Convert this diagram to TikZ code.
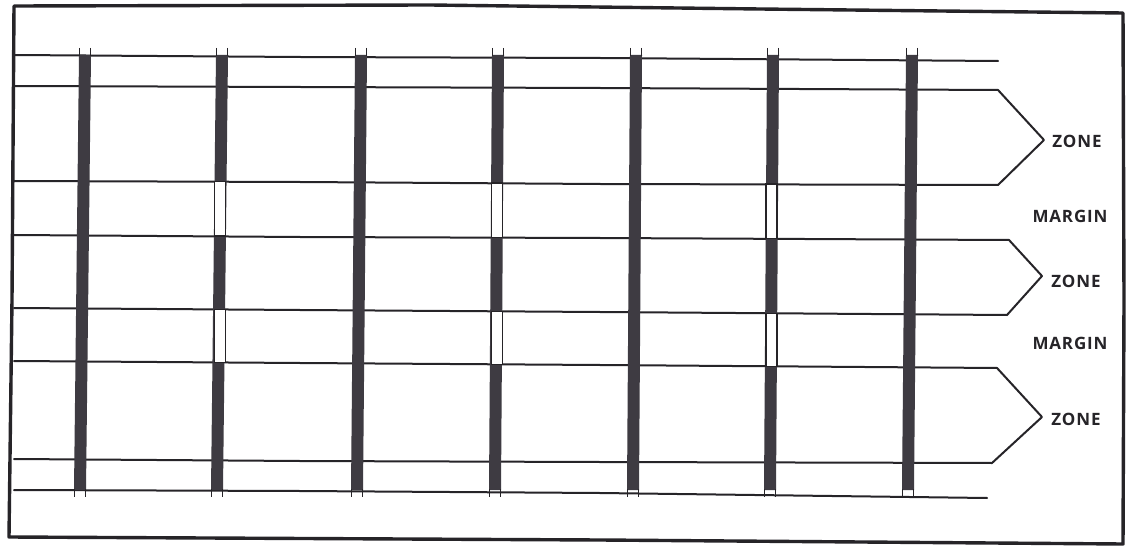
\documentclass[tikz,border=0pt]{standalone}
\usepackage{fontspec}
\newfontfamily\handfont[LetterSpace=5]{Open Sans}
\begin{document}
\begin{tikzpicture}[x=1pt,y=-1pt,
  ink/.style={draw=inkc,line width=2pt,line cap=round,line join=round},
  frame/.style={draw=inkc,line width=3.4pt,line join=round},
  hollow/.style={fill=white,draw=inkc,line width=1.4pt},
  tick/.style={draw=inkc,line width=1.2pt},
  lab/.style={font=\handfont\bfseries\fontsize{17}{19}\selectfont,text=inkc,inner sep=0pt}]
\definecolor{inkc}{HTML}{262428}
\definecolor{barc}{HTML}{3E3B42}
\useasboundingbox (0,0) rectangle (1130,548);
\fill[white] (0,0) rectangle (1130,548);
% frame
\draw[frame] (14,6) -- (430,5) -- (760,9) -- (1123,13) -- (1124,300) -- (1123,544) -- (600,540) -- (9,537) -- (12,300) -- cycle;
% horizontal lines
\draw[ink] (14,55) -- (300,57) -- (600,58) -- (998,61);
\draw[ink] (14,86) -- (300,87) -- (600,88) -- (998,90) coordinate (z1a);
\draw[ink] (14,181) -- (300,182) -- (600,184) -- (998,185) coordinate (z1b);
\draw[ink] (14,235) -- (300,237) -- (600,238) -- (1009,240) coordinate (z2a);
\draw[ink] (14,308) -- (300,310) -- (600,312) -- (1007,315) coordinate (z2b);
\draw[ink] (14,361) -- (300,363) -- (600,365) -- (997,368) coordinate (z3a);
\draw[ink] (14,459) -- (300,461) -- (600,462) -- (992,463) coordinate (z3b);
\draw[ink] (14,490) -- (300,491) -- (600,493) -- (987,498);
% zone brackets
\coordinate (t1) at (1044,140);
\coordinate (t2) at (1042,276);
\coordinate (t3) at (1042,417);
\draw[ink] (z1a) -- (t1) -- (z1b);
\draw[ink] (z2a) -- (t2) -- (z2b);
\draw[ink] (z3a) -- (t3) -- (z3b);
% bars
\foreach \xt/\xb in {85/80,222/217,361/357,498/495,636/633,773/770,912/908}{
  \fill[barc] (\xt-6,55) -- (\xt+6,55) -- (\xb+6,490) -- (\xb-6,490) -- cycle;
  \draw[tick] (\xt-5.5,48) -- (\xt-5.5,56);
  \draw[tick] (\xt+5.5,48) -- (\xt+5.5,56);
  \draw[tick] (\xb-5.5,489) -- (\xb-5.5,497);
  \draw[tick] (\xb+5.5,489) -- (\xb+5.5,497);
}
% hollow margin segments in bars 2,4,6
\foreach \xc/\ya/\yb/\yc/\yd in {220/181.8/236/309.5/362.5,497/183/237.4/311.4/364.4,771.5/184.1/238.8/313.3/366.4}{
  \draw[hollow] (\xc-5.5,\ya) rectangle (\xc+5.5,\yb);
  \draw[hollow] (\xc-5.5,\yc) rectangle (\xc+5.5,\yd);
}
% labels
\node[lab] (zone1) at (1077,141) {ZONE};
\node[lab] (margin1) at (1070,216) {MARGIN};
\node[lab] (zone2) at (1076,281) {ZONE};
\node[lab] (margin2) at (1070,343) {MARGIN};
\node[lab] (zone3) at (1076,419) {ZONE};
\end{tikzpicture}
\end{document}
